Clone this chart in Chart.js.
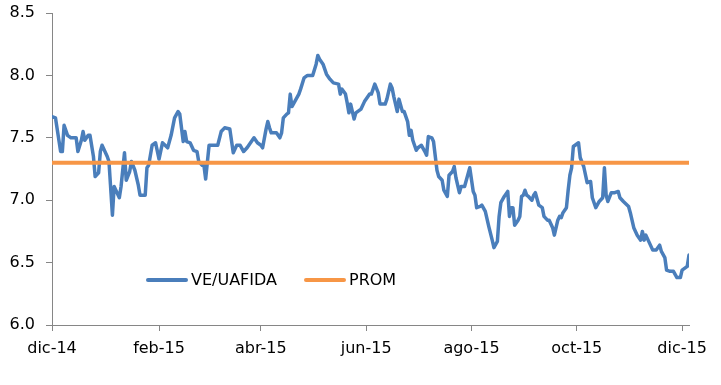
<!DOCTYPE html>
<html>
<head>
<meta charset="utf-8">
<script src="https://cdn.jsdelivr.net/npm/chart.js@4/dist/chart.umd.min.js"></script>
<style>
  body { margin: 0; background: #fff; }
  canvas { display: block; }
</style>
</head>
<body>
<canvas id="chart" width="721" height="385"></canvas>
<script>
"use strict"

var dates = [
  "2014-12-01","2014-12-03","2014-12-06","2014-12-07","2014-12-08","2014-12-10","2014-12-12","2014-12-15",
  "2014-12-16","2014-12-18","2014-12-19","2014-12-20","2014-12-22","2014-12-23","2014-12-25","2014-12-26",
  "2014-12-28","2014-12-29","2014-12-30","2015-01-02","2015-01-03","2015-01-05","2015-01-06","2015-01-07",
  "2015-01-09","2015-01-10","2015-01-12","2015-01-13","2015-01-15","2015-01-16","2015-01-18","2015-01-20",
  "2015-01-21","2015-01-24","2015-01-25","2015-01-26","2015-01-28","2015-01-30","2015-02-01","2015-02-03",
  "2015-02-06","2015-02-08","2015-02-10","2015-02-12","2015-02-13","2015-02-15","2015-02-16","2015-02-17",
  "2015-02-19","2015-02-21","2015-02-23","2015-02-24","2015-02-26","2015-02-27","2015-02-28","2015-03-02",
  "2015-03-05","2015-03-07","2015-03-09","2015-03-11","2015-03-14","2015-03-16","2015-03-18","2015-03-20",
  "2015-03-22","2015-03-24","2015-03-26","2015-03-28","2015-03-30","2015-04-01","2015-04-02","2015-04-04",
  "2015-04-05","2015-04-06","2015-04-07","2015-04-10","2015-04-12","2015-04-13","2015-04-14","2015-04-16",
  "2015-04-17","2015-04-18","2015-04-19","2015-04-21","2015-04-23","2015-04-24","2015-04-26","2015-04-28",
  "2015-05-01","2015-05-03","2015-05-04","2015-05-05","2015-05-07","2015-05-09","2015-05-11","2015-05-13",
  "2015-05-16","2015-05-17","2015-05-18","2015-05-20","2015-05-21","2015-05-22","2015-05-23","2015-05-25",
  "2015-05-26","2015-05-29","2015-05-31","2015-06-01","2015-06-03","2015-06-04","2015-06-06","2015-06-08",
  "2015-06-09","2015-06-12","2015-06-13","2015-06-15","2015-06-16","2015-06-17","2015-06-19","2015-06-20",
  "2015-06-22","2015-06-23","2015-06-25","2015-06-26","2015-06-27","2015-06-28","2015-06-30","2015-07-01",
  "2015-07-03","2015-07-05","2015-07-06","2015-07-07","2015-07-09","2015-07-10","2015-07-12","2015-07-13",
  "2015-07-15","2015-07-16","2015-07-18","2015-07-19","2015-07-21","2015-07-22","2015-07-23","2015-07-25",
  "2015-07-26","2015-07-28","2015-07-29","2015-07-31","2015-08-02","2015-08-03","2015-08-04","2015-08-06",
  "2015-08-07","2015-08-09","2015-08-11","2015-08-13","2015-08-14","2015-08-16","2015-08-17","2015-08-18",
  "2015-08-20","2015-08-22","2015-08-23","2015-08-24","2015-08-25","2015-08-26","2015-08-28","2015-08-29",
  "2015-08-30","2015-08-31","2015-09-01","2015-09-02","2015-09-03","2015-09-05","2015-09-06","2015-09-07",
  "2015-09-09","2015-09-10","2015-09-11","2015-09-12","2015-09-14","2015-09-15","2015-09-17","2015-09-18",
  "2015-09-20","2015-09-21","2015-09-22","2015-09-23","2015-09-25","2015-09-26","2015-09-27","2015-09-28",
  "2015-09-29","2015-09-30","2015-10-02","2015-10-03","2015-10-05","2015-10-07","2015-10-09","2015-10-10",
  "2015-10-12","2015-10-14","2015-10-16","2015-10-17","2015-10-18","2015-10-19","2015-10-21","2015-10-23",
  "2015-10-25","2015-10-26","2015-10-28","2015-10-31","2015-11-01","2015-11-03","2015-11-05","2015-11-07",
  "2015-11-08","2015-11-09","2015-11-10","2015-11-12","2015-11-14","2015-11-16","2015-11-18","2015-11-19",
  "2015-11-21","2015-11-22","2015-11-24","2015-11-26","2015-11-28","2015-11-30","2015-12-01","2015-12-03",
  "2015-12-04","2015-12-05"
];

var veUafida = [
  7.67,7.66,7.39,7.39,7.60,7.52,7.50,7.50,
  7.39,7.48,7.55,7.48,7.52,7.52,7.35,7.19,
  7.22,7.39,7.44,7.35,7.31,6.88,7.11,7.08,
  7.02,7.11,7.38,7.16,7.23,7.31,7.24,7.12,
  7.04,7.04,7.26,7.28,7.44,7.46,7.33,7.46,
  7.42,7.52,7.66,7.71,7.69,7.47,7.55,7.47,
  7.46,7.40,7.39,7.31,7.28,7.28,7.17,7.44,
  7.44,7.44,7.55,7.58,7.57,7.38,7.44,7.44,
  7.39,7.42,7.46,7.50,7.46,7.44,7.42,7.57,
  7.63,7.58,7.54,7.54,7.50,7.54,7.66,7.69,
  7.70,7.85,7.75,7.80,7.85,7.89,7.98,8.00,
  8.00,8.09,8.16,8.13,8.09,8.01,7.97,7.94,
  7.93,7.85,7.89,7.85,7.78,7.70,7.77,7.65,
  7.70,7.73,7.79,7.81,7.85,7.85,7.93,7.86,
  7.77,7.77,7.81,7.93,7.90,7.83,7.71,7.81,
  7.71,7.71,7.63,7.52,7.56,7.48,7.40,7.42,
  7.44,7.39,7.36,7.51,7.50,7.47,7.24,7.19,
  7.16,7.08,7.03,7.20,7.23,7.27,7.18,7.06,
  7.11,7.11,7.16,7.26,7.07,7.04,6.94,6.95,
  6.96,6.91,6.79,6.68,6.62,6.67,6.87,6.98,
  7.03,7.07,6.87,6.94,6.94,6.80,6.84,6.87,
  7.03,7.04,7.08,7.04,7.03,7.00,7.04,7.06,
  6.96,6.95,6.94,6.87,6.84,6.84,6.78,6.72,
  6.84,6.87,6.86,6.90,6.94,7.08,7.20,7.26,
  7.43,7.44,7.46,7.34,7.27,7.14,7.15,7.02,
  6.94,6.99,7.02,7.26,7.04,6.99,7.06,7.06,
  7.07,7.02,6.99,6.95,6.90,6.78,6.72,6.68,
  6.75,6.68,6.72,6.66,6.60,6.60,6.64,6.59,
  6.54,6.44,6.43,6.43,6.38,6.38,6.44,6.46,
  6.47,6.56
];

var promValue = 7.30;

var tickDates = ["2014-12-01","2015-02-01","2015-04-01","2015-06-01","2015-08-01","2015-10-01","2015-12-01"];
var tickLabels = ["dic-14","feb-15","abr-15","jun-15","ago-15","oct-15","dic-15"];
var yTicks = [6.0, 6.5, 7.0, 7.5, 8.0, 8.5];

var seriesNames = ["VE/UAFIDA", "PROM"];
var seriesColors = ["#4A7EBB", "#F79646"];

// days since first date, so a linear axis behaves like a date axis
function dayNum(d){
    return (Date.parse(d) - Date.parse(dates[0])) / 86400000;
}

var tickDays = tickDates.map(dayNum);

function toPoints(vals){
    var arr = [];
    for (var i in dates){
        arr.push({x: dayNum(dates[i]), y: vals[i]});
    }
    return arr;
}

// legend drawn inside the plot like the Excel original
var inlineLegend = {
    id: "inlineLegend",
    afterDraw: function(chart, args, opts){
        var ctx = chart.ctx;
        ctx.save();
        ctx.font = "16px 'DejaVu Sans', Verdana, sans-serif";
        ctx.textBaseline = "middle";
        ctx.fillStyle = "#000";
        var x = opts.x;
        var y = opts.y;
        for (var i in chart.data.datasets){
            var ds = chart.data.datasets[i];
            ctx.beginPath();
            ctx.lineWidth = 4;
            ctx.lineCap = "round";
            ctx.strokeStyle = ds.borderColor;
            ctx.moveTo(x + 2, y);
            ctx.lineTo(x + 40, y);
            ctx.stroke();
            ctx.fillText(ds.label, x + 45, y + 1);
            x += 45 + ctx.measureText(ds.label).width + 27;
        }
        ctx.restore();
    }
};

var chart = new Chart(document.getElementById("chart"), {
    type: "line",
    data: {
        datasets: [{
            label: seriesNames[0],
            data: toPoints(veUafida),
            borderColor: seriesColors[0],
            borderWidth: 3.5,
            borderJoinStyle: "round",
            borderCapStyle: "round",
            pointRadius: 0,
            tension: 0,
            order: 1
        }, {
            label: seriesNames[1],
            data: toPoints(dates.map(function(){ return promValue; })),
            borderColor: seriesColors[1],
            borderWidth: 4,
            borderCapStyle: "butt",
            pointRadius: 0,
            tension: 0,
            order: 0
        }]
    },
    options: {
        responsive: false,
        animation: false,
        events: [],
        layout: { padding: { left: 0, right: 32, top: 13, bottom: 0 } },
        plugins: {
            legend: { display: false },
            tooltip: { enabled: false },
            inlineLegend: { x: 146, y: 280 }
        },
        scales: {
            x: {
                type: "linear",
                min: 0,
                max: dayNum(dates[dates.length - 1]),
                afterBuildTicks: function(axis){
                    axis.ticks = tickDays.map(function(v){ return {value: v}; });
                },
                afterFit: function(axis){
                    axis.height = 60;
                    axis.paddingLeft = 0;
                    axis.paddingRight = 0;
                },
                grid: { drawOnChartArea: false, drawTicks: true, tickLength: 6, color: "#868686" },
                border: { color: "#868686", width: 1 },
                ticks: {
                    autoSkip: false,
                    maxRotation: 0,
                    padding: 8,
                    color: "#000",
                    font: { family: "'DejaVu Sans', Verdana, sans-serif", size: 16 },
                    callback: function(v){
                        var i = tickDays.indexOf(v);
                        return i >= 0 ? tickLabels[i] : "";
                    }
                }
            },
            y: {
                min: 6,
                max: 8.5,
                afterBuildTicks: function(axis){
                    axis.ticks = yTicks.map(function(v){ return {value: v}; });
                },
                afterFit: function(axis){
                    axis.width = 52;
                    axis.paddingTop = 0;
                    axis.paddingBottom = 0;
                },
                grid: { drawOnChartArea: false, drawTicks: true, tickLength: 6, color: "#868686" },
                border: { color: "#868686", width: 1 },
                ticks: {
                    padding: 11,
                    color: "#000",
                    font: { family: "'DejaVu Sans', Verdana, sans-serif", size: 16 },
                    callback: function(v){ return v.toFixed(1); }
                }
            }
        }
    },
    plugins: [inlineLegend]
});
</script>
</body>
</html>
